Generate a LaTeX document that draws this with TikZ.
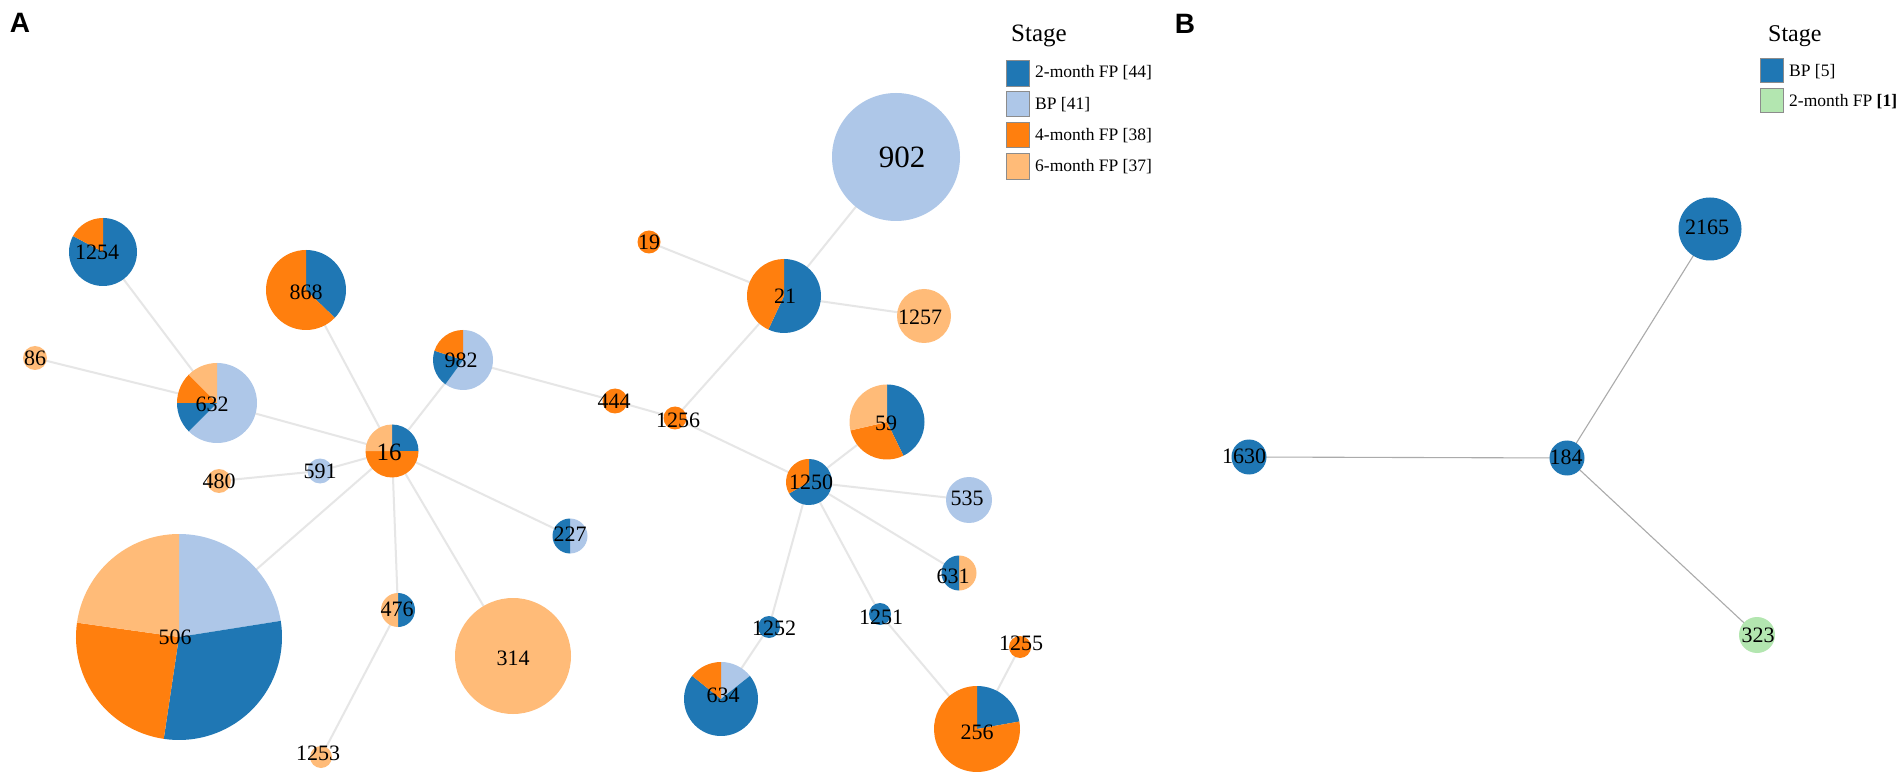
\documentclass[tikz,border=0pt]{standalone}
\usepackage{fontspec}
\setmainfont{Liberation Serif}
\newfontfamily\panelfont{Liberation Sans}
\definecolor{cb}{HTML}{1F77B4}
\definecolor{clb}{HTML}{AEC7E8}
\definecolor{co}{HTML}{FF7F0E}
\definecolor{clo}{HTML}{FFBB78}
\definecolor{clg}{HTML}{B3E6B0}
\definecolor{edgeAcol}{HTML}{E6E6E6}
\definecolor{edgeBcol}{HTML}{ABABAB}
\definecolor{boxline}{HTML}{8C8C8C}
\newcommand\pslice[5]{\fill[#5] (#1) -- ++(#3:#2pt) arc[start angle=#3, end angle=#4, radius=#2pt] -- cycle;}
\newcommand\pdisc[3]{\fill[#3] (#1) circle[radius=#2pt];}
\begin{document}
\begin{tikzpicture}[x=1pt,y=-1pt,
  edgeA/.style={draw=edgeAcol, line width=2pt},
  edgeB/.style={draw=edgeBcol, line width=1.1pt},
  lab/.style={inner sep=0pt, font=\fontsize{22}{24}\selectfont},
  leg/.style={inner sep=0pt, anchor=base west, font=\fontsize{17.5}{19}\selectfont},
  legtitle/.style={inner sep=0pt, anchor=base west, font=\fontsize{25}{27}\selectfont},
  legbox/.style={draw=boxline, line width=0.8pt},
  panel/.style={inner sep=0pt, font=\panelfont\bfseries\fontsize{28}{30}\selectfont}]
\useasboundingbox (0,0) rectangle (1904,775);
\fill[white] (0,0) rectangle (1904,775);
% ---------- coordinates: panel A
\coordinate (c1254) at (103,252);
\coordinate (c868) at (306,290);
\coordinate (c86) at (35,358);
\coordinate (c632) at (217,403);
\coordinate (c982) at (463,360);
\coordinate (c16) at (392,451);
\coordinate (c591) at (320,471);
\coordinate (c480) at (219,481);
\coordinate (c444) at (615,401);
\coordinate (c227) at (570,536);
\coordinate (c506) at (179,637);
\coordinate (c476) at (398,610);
\coordinate (c314) at (513,656);
\coordinate (c1253) at (321,757);
\coordinate (c19) at (649,242);
\coordinate (c902) at (896,157);
\coordinate (c21) at (784,296);
\coordinate (c1257) at (924,316);
\coordinate (c1256) at (675,418);
\coordinate (c59) at (887,422);
\coordinate (c1250) at (809,482);
\coordinate (c535) at (969,500);
\coordinate (c631) at (959,573);
\coordinate (c1252) at (769,627);
\coordinate (c1251) at (880,614);
\coordinate (c1255) at (1020,647);
\coordinate (c634) at (721,699);
\coordinate (c256) at (977,729);
% ---------- coordinates: panel B
\coordinate (c2165) at (1710,229);
\coordinate (c1630) at (1249,457);
\coordinate (c184) at (1567,458);
\coordinate (c323) at (1757,635);
% ---------- edges A
\foreach \a/\b in {1254/632, 86/632, 632/16, 868/16, 982/16, 982/444, 591/16, 480/591,
  506/16, 476/16, 314/16, 227/16, 1253/476, 444/1256, 1256/21, 21/902, 21/19, 21/1257,
  1256/1250, 1250/59, 1250/535, 1250/631, 1250/1252, 1250/1251, 1252/634, 1251/256, 1255/256}
  {\draw[edgeA] (c\a) -- (c\b);}
% ---------- edges B
\foreach \a/\b in {1630/184, 184/2165, 184/323}
  {\draw[edgeB] (c\a) -- (c\b);}
% ---------- pies A
\pslice{c1254}{34}{90}{-208}{cb}\pslice{c1254}{34}{152}{90}{co}
\pslice{c868}{40}{90}{-44}{cb}\pslice{c868}{40}{-44}{-270}{co}
\pdisc{c86}{12}{clo}
\pslice{c632}{40}{90}{-135}{clb}\pslice{c632}{40}{-135}{-180}{cb}\pslice{c632}{40}{-180}{-225}{co}\pslice{c632}{40}{-225}{-270}{clo}
\pslice{c982}{30}{90}{-126}{clb}\pslice{c982}{30}{-126}{-198}{cb}\pslice{c982}{30}{-198}{-270}{co}
\pslice{c16}{26.5}{90}{0}{cb}\pslice{c16}{26.5}{0}{-180}{co}\pslice{c16}{26.5}{-180}{-270}{clo}
\pdisc{c591}{12.5}{clb}
\pdisc{c480}{12}{clo}
\pdisc{c444}{12.5}{co}
\pslice{c227}{17.5}{90}{-90}{clb}\pslice{c227}{17.5}{-90}{-270}{cb}
\pslice{c506}{103}{90}{9}{clb}\pslice{c506}{103}{9}{-98.5}{cb}\pslice{c506}{103}{-98.5}{-188}{co}\pslice{c506}{103}{-188}{-270}{clo}
\pslice{c476}{17}{90}{-90}{cb}\pslice{c476}{17}{-90}{-270}{clo}
\pdisc{c314}{58}{clo}
\pdisc{c1253}{11}{clo}
\pdisc{c19}{11.5}{co}
\pdisc{c902}{64}{clb}
\pslice{c21}{37}{90}{-115}{cb}\pslice{c21}{37}{-115}{-270}{co}
\pdisc{c1257}{27}{clo}
\pdisc{c1256}{11.5}{co}
\pslice{c59}{37.5}{90}{-64}{cb}\pslice{c59}{37.5}{-64}{-167}{co}\pslice{c59}{37.5}{-167}{-270}{clo}
\pslice{c1250}{23}{90}{-150}{cb}\pslice{c1250}{23}{-150}{-270}{co}
\pdisc{c535}{23}{clb}
\pslice{c631}{17.5}{90}{-90}{clo}\pslice{c631}{17.5}{-90}{-270}{cb}
\pdisc{c1252}{11}{cb}
\pdisc{c1251}{11}{cb}
\pdisc{c1255}{11}{co}
\pslice{c634}{37}{90}{38.6}{clb}\pslice{c634}{37}{38.6}{-218.6}{cb}\pslice{c634}{37}{-218.6}{-270}{co}
\pslice{c256}{43}{90}{10}{cb}\pslice{c256}{43}{10}{-270}{co}
% ---------- discs B
\pdisc{c2165}{31.5}{cb}
\pdisc{c1630}{17.5}{cb}
\pdisc{c184}{17.5}{cb}
\pdisc{c323}{18}{clg}
% ---------- labels A
\node[lab] (t1254) at (97,252) {1254};
\node[lab] (t868) at (306,292) {868};
\node[lab] (t86) at (35,358) {86};
\node[lab] (t632) at (212,404) {632};
\node[lab] (t982) at (461,360) {982};
\node[lab, font=\fontsize{25}{27}\selectfont] (t16) at (389,452) {16};
\node[lab] (t591) at (320,471) {591};
\node[lab] (t480) at (219,481) {480};
\node[lab] (t444) at (614,401) {444};
\node[lab] (t227) at (570,534) {227};
\node[lab] (t506) at (175,637) {506};
\node[lab] (t476) at (397,609) {476};
\node[lab] (t314) at (513,658) {314};
\node[lab] (t1253) at (318,753) {1253};
\node[lab] (t19) at (649,242) {19};
\node[lab, font=\fontsize{31}{33}\selectfont] (t902) at (902,157) {902};
\node[lab] (t21) at (785,296) {21};
\node[lab] (t1257) at (920,317) {1257};
\node[lab] (t1256) at (678,420) {1256};
\node[lab] (t59) at (886,423) {59};
\node[lab] (t1250) at (811,482) {1250};
\node[lab] (t535) at (967,498) {535};
\node[lab] (t631) at (953,576) {631};
\node[lab] (t1252) at (774,628) {1252};
\node[lab] (t1251) at (881,617) {1251};
\node[lab] (t1255) at (1021,643) {1255};
\node[lab] (t634) at (723,695) {634};
\node[lab] (t256) at (977,732) {256};
% ---------- labels B
\node[lab] (t2165) at (1707,227) {2165};
\node[lab] (t1630) at (1244,456) {1630};
\node[lab] (t184) at (1566,457) {184};
\node[lab] (t323) at (1758,635) {323};
% ---------- panel letters
\node[panel] (pA) at (20,23) {A};
\node[panel] (pB) at (1185,24) {B};
% ---------- legend A
\node[legtitle] (sA) at (1011,41.5) {Stage};
\filldraw[legbox, fill=cb]  (1006,60) rectangle (1029,86);
\filldraw[legbox, fill=clb] (1006,91) rectangle (1029,116);
\filldraw[legbox, fill=co]  (1006,122) rectangle (1029,147);
\filldraw[legbox, fill=clo] (1006,153) rectangle (1029,179);
\node[leg] (lA1) at (1035,78) {2-month FP [44]};
\node[leg] (lA2) at (1035,109.5) {BP [41]};
\node[leg] (lA3) at (1035,140.5) {4-month FP [38]};
\node[leg] (lA4) at (1035,171.5) {6-month FP [37]};
% ---------- legend B
\node[legtitle, font=\fontsize{24}{26}\selectfont] (sB) at (1768,42) {Stage};
\filldraw[legbox, fill=cb]  (1760,58) rectangle (1783,82);
\filldraw[legbox, fill=clg] (1760,88) rectangle (1783,112);
\node[leg] (lB1) at (1789,77) {BP [5]};
\node[leg] (lB2) at (1789,106.5) {2-month FP \textbf{[1]}};
\end{tikzpicture}
\end{document}
